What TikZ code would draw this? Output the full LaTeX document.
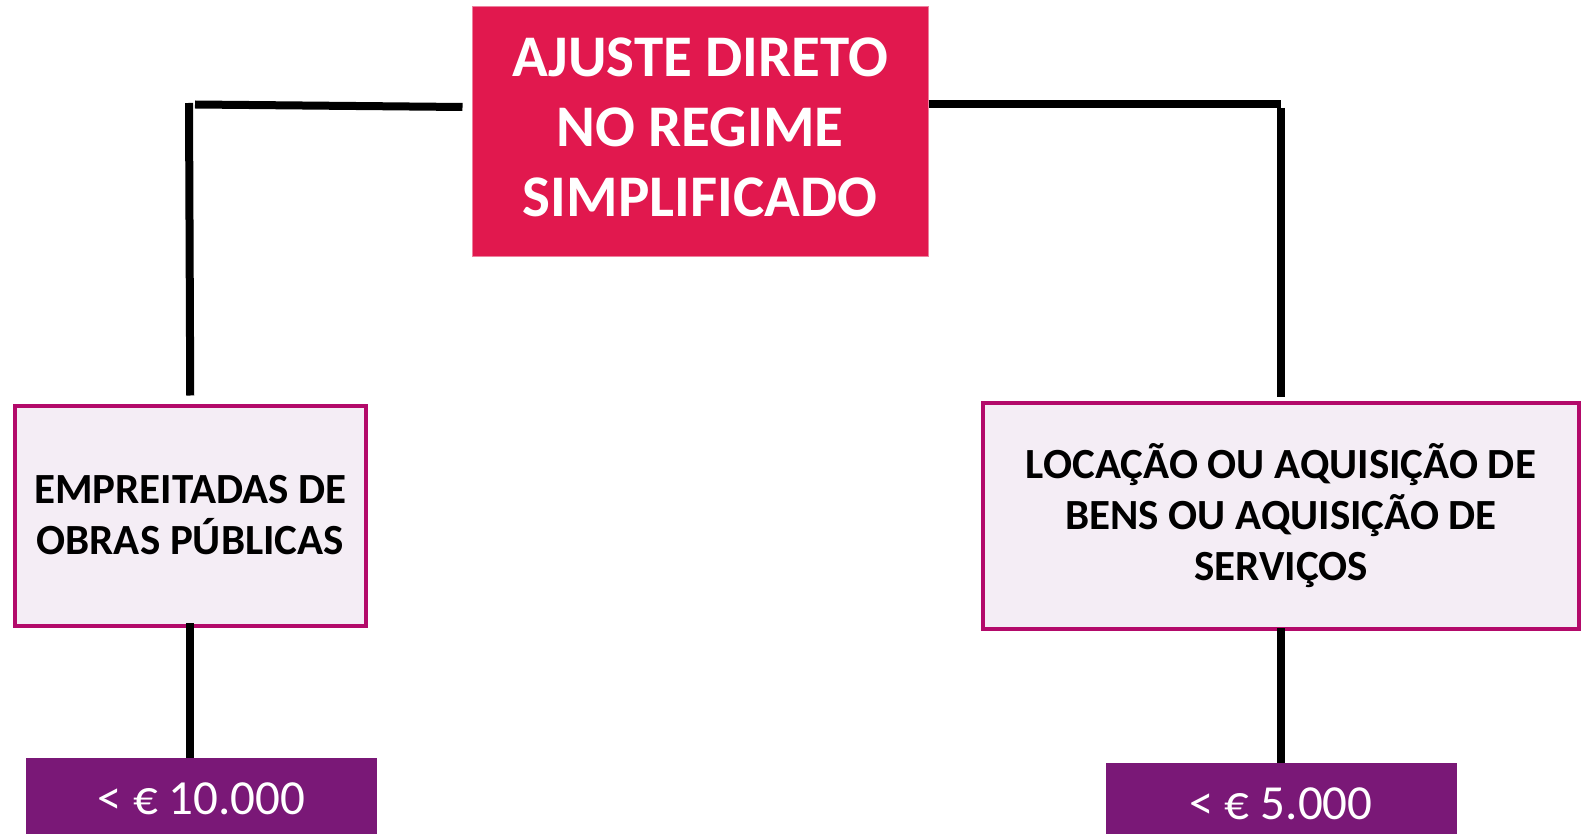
\documentclass[tikz,border=0pt]{standalone}
\usepackage{fontspec}
\setmainfont{Carlito}
\definecolor{titlered}{HTML}{E1184E}
\definecolor{kindedge}{HTML}{B30A6A}
\definecolor{kindfill}{HTML}{F4EDF5}
\definecolor{limpurple}{HTML}{7A1877}
\begin{document}
\begin{tikzpicture}[x=1pt,y=-1pt,
titlebox/.style={fill=titlered,draw=titlered!55!white,line width=1pt,text=white,
  font=\fontsize{59}{70}\selectfont\bfseries,align=center,text depth=10pt,
  minimum width=456pt,minimum height=250pt,inner sep=0pt},
kindbox/.style={fill=kindfill,draw=kindedge,line width=4pt,
  font=\fontsize{43}{51}\selectfont\bfseries,align=center,inner sep=0pt},
limbox/.style={fill=limpurple,text=white,font=\fontsize{49}{58}\selectfont,
  minimum width=351pt,minimum height=82pt,inner sep=0pt},
link/.style={line width=8pt}]
\useasboundingbox (0,0) rectangle (1583,834);

%%%% nodes
%%%%
\node[titlebox](title) at(700,132) {AJUSTE DIRETO\\NO REGIME\\SIMPLIFICADO};
\node[kindbox,minimum width=351.5pt,minimum height=220pt](works) at(190.25,515.5)
  {EMPREITADAS DE\\OBRAS PÚBLICAS};
\node[kindbox,minimum width=596pt,minimum height=226.5pt](goods) at(1281,516)
  {LOCAÇÃO OU AQUISIÇÃO DE\\BENS OU AQUISIÇÃO DE\\SERVIÇOS};
\node[limbox](lim10) at(201.5,799) {< € 10.000};
\node[limbox](lim5) at(1281,804) {< € 5.000};

\coordinate(lbend) at(195,104.5);
\coordinate(ltop) at(189,103);
\coordinate(rbend) at(1281,104.5);

%%%% connectors
%%%%
\draw[link] ([xshift=-9pt,yshift=25pt]title.west) -- (lbend);
\draw[link] (ltop) -- ([yshift=8pt]works.north);
\draw[link] ([yshift=4.5pt]works.south) -- (works.south |- lim10.north);

\draw[link] ([yshift=27.5pt]title.east) -- (rbend);
\draw[link] ([yshift=-3.5pt]rbend) -- ([yshift=4pt]goods.north);
\draw[link] ([yshift=3pt]goods.south) -- (lim5.north);

\end{tikzpicture}
\end{document}
